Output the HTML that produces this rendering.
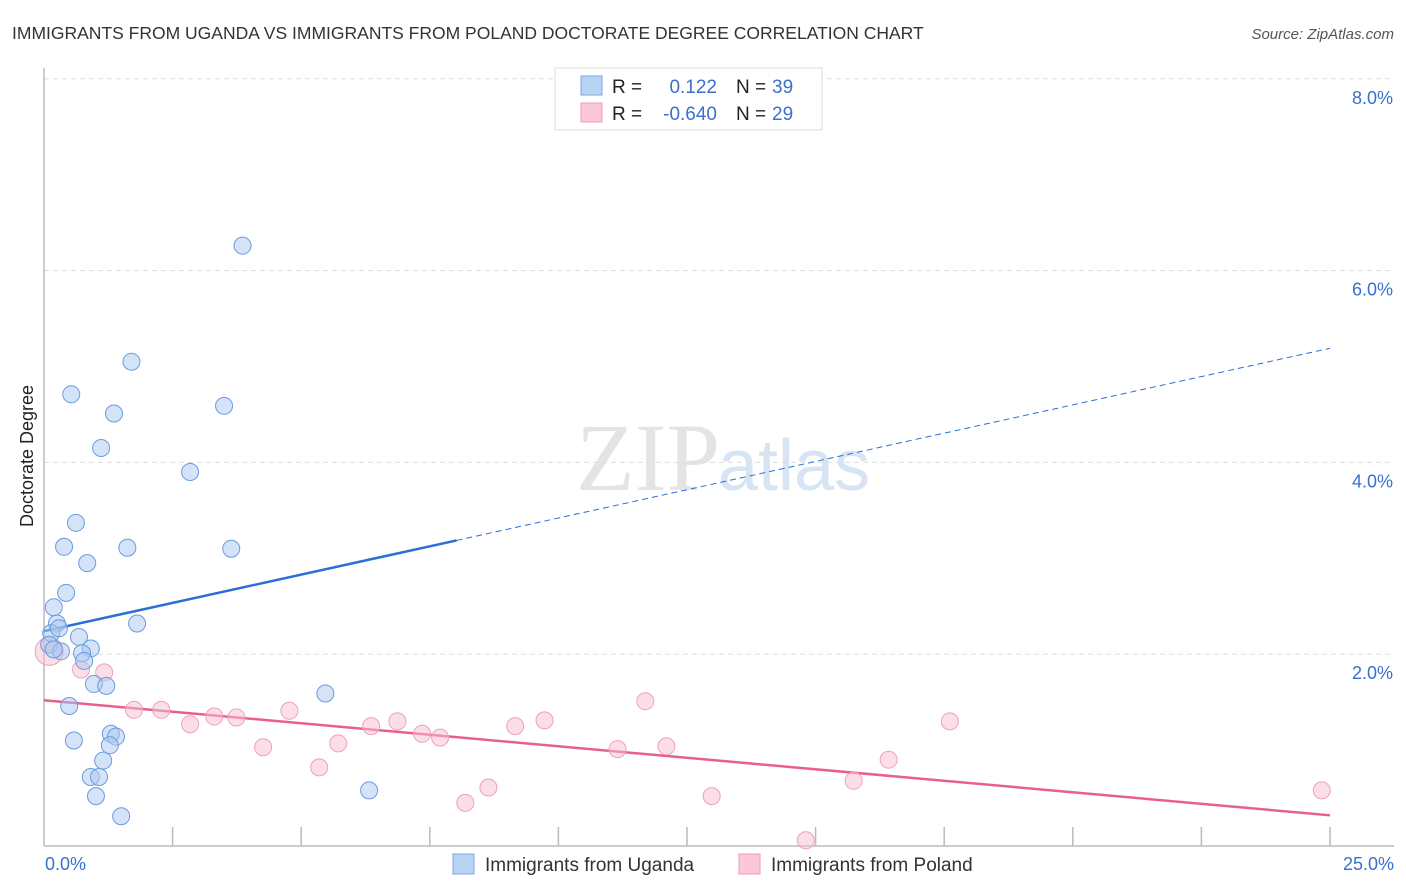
<!DOCTYPE html>
<html><head><meta charset="utf-8"><style>
body{margin:0;background:#fff;font-family:"Liberation Sans",sans-serif;}
#wrap{position:relative;width:1406px;height:892px;overflow:hidden}
</style></head><body>
<div id="wrap">
<svg id="svg" width="1406" height="892" xmlns="http://www.w3.org/2000/svg">
<text x="12" y="39" font-size="17.5" fill="#333">IMMIGRANTS FROM UGANDA VS IMMIGRANTS FROM POLAND DOCTORATE DEGREE CORRELATION CHART</text>
<text x="1394" y="39" font-size="15" fill="#555" font-style="italic" text-anchor="end">Source: ZipAtlas.com</text>
<text x="720" y="490" font-size="96" fill="#e4e4e4" text-anchor="end" font-family="Liberation Serif,serif">ZIP</text>
<text x="718" y="490" font-size="72" fill="#d6e4f4">atlas</text>
<g id="grid"></g>
<line x1="44" y1="68" x2="44" y2="846" stroke="#bbb" stroke-width="1.5"/>
<line x1="44" y1="846" x2="1394" y2="846" stroke="#bbb" stroke-width="1.5"/>
<g id="xticks"></g>
<g id="lines"></g>
<g id="pts"></g>
<text x="33" y="456" font-size="18" fill="#222" text-anchor="middle" transform="rotate(-90 33 456)">Doctorate Degree</text>
<text x="45" y="870" font-size="18" fill="#3a6fd0">0.0%</text>
<text x="1394" y="870" font-size="18" fill="#3a6fd0" text-anchor="end">25.0%</text>
<g>
<rect x="555" y="68" width="267" height="62" fill="#fff" stroke="#ddd"/>
<rect x="581" y="76" width="21" height="19" fill="#b8d4f5" stroke="#7aa7e0"/>
<rect x="581" y="103" width="21" height="19" fill="#fcc8d8" stroke="#f09ab5"/>
<text x="612" y="93" font-size="19" fill="#222">R = </text>
<text x="717" y="93" font-size="19" fill="#3a6fd0" text-anchor="end">0.122</text>
<text x="736" y="93" font-size="19" fill="#222">N =</text>
<text x="772" y="93" font-size="19" fill="#3a6fd0">39</text>
<text x="612" y="120" font-size="19" fill="#222">R = </text>
<text x="717" y="120" font-size="19" fill="#3a6fd0" text-anchor="end">-0.640</text>
<text x="736" y="120" font-size="19" fill="#222">N =</text>
<text x="772" y="120" font-size="19" fill="#3a6fd0">29</text>
</g>
<g>
<rect x="453" y="854" width="21" height="20" fill="#b8d4f5" stroke="#7aa7e0"/>
<text x="485" y="871" font-size="19" fill="#333">Immigrants from Uganda</text>
<rect x="739" y="854" width="21" height="20" fill="#fcc8d8" stroke="#f09ab5"/>
<text x="771" y="871" font-size="19" fill="#333">Immigrants from Poland</text>
</g>
</svg>
</div>
<script>
const yTicks=[2,4,6,8];
const yTickLabels=["2.0%","4.0%","6.0%","8.0%"];
const xTickVals=[2.5,5,7.5,10,12.5,15,17.5,20,22.5,25];
const ugandaX=[3.86,1.70,0.53,1.36,3.50,1.11,2.84,0.62,0.39,1.62,3.64,0.84,0.43,0.19,0.25,0.14,0.29,0.68,0.10,0.33,0.91,0.74,0.78,1.81,5.47,0.97,1.21,0.49,0.58,1.30,1.40,1.28,1.15,0.91,1.07,1.01,1.50,6.32,0.19];
const ugandaY=[6.26,5.05,4.71,4.51,4.59,4.15,3.90,3.37,3.12,3.11,3.10,2.95,2.64,2.49,2.32,2.22,2.27,2.18,2.10,2.03,2.06,2.01,1.93,2.32,1.59,1.69,1.67,1.46,1.10,1.17,1.14,1.05,0.89,0.72,0.72,0.52,0.31,0.58,2.05];
const polandX=[0.10,0.72,1.17,1.75,2.28,2.84,3.31,3.74,4.26,4.77,5.35,5.72,6.36,6.87,7.35,7.70,8.19,8.64,9.16,9.73,11.15,11.69,12.10,12.98,14.81,15.74,16.42,17.61,24.84];
const polandY=[2.03,1.84,1.81,1.42,1.42,1.27,1.35,1.34,1.03,1.41,0.82,1.07,1.25,1.30,1.17,1.13,0.45,0.61,1.25,1.31,1.01,1.51,1.04,0.52,0.06,0.68,0.90,1.30,0.58];
const ugandaLine=[2.24,5.19]; // at x=0 and x=25
const ugandaSolidEnd=8.02;
const polandLine=[1.52,0.32];
const X=v=>44+v*51.44, Y=v=>846-v*95.9;
const NS="http://www.w3.org/2000/svg";
function mk(tag,attrs,parent){const e=document.createElementNS(NS,tag);for(const k in attrs)e.setAttribute(k,attrs[k]);document.getElementById(parent).appendChild(e);return e;}
yTicks.forEach((t,i)=>{
 const l=mk('line',{x1:44,x2:1394,y1:Y(t),y2:Y(t),stroke:'#ddd','stroke-dasharray':'5,4'},'grid');
 
 
 const tx=mk('text',{x:1393,y:Y(t)+25,'font-size':18,fill:'#3a6fd0','text-anchor':'end'},'grid');
 tx.textContent=yTickLabels[i];
 
 
});
xTickVals.forEach(v=>{
 const l=mk('line',{x1:X(v),x2:X(v),y1:827,y2:846,stroke:'#bbb','stroke-width':1.5},'xticks');
 
 
});
const ly=x=>ugandaLine[0]+(ugandaLine[1]-ugandaLine[0])*x/25;
const py=x=>polandLine[0]+(polandLine[1]-polandLine[0])*x/25;
let e=mk('line',{x1:X(0),y1:Y(ly(0)),x2:X(ugandaSolidEnd),y2:Y(ly(ugandaSolidEnd)),stroke:'#2b6fd6','stroke-width':2.5},'lines');


e=mk('line',{x1:X(ugandaSolidEnd),y1:Y(ly(ugandaSolidEnd)),x2:X(25),y2:Y(ly(25)),stroke:'#2b6fd6','stroke-width':1,'stroke-dasharray':'6,4'},'lines');


e=mk('line',{x1:X(0),y1:Y(py(0)),x2:X(25),y2:Y(py(25)),stroke:'#e8608a','stroke-width':2.5},'lines');


polandX.forEach((x,i)=>{
 const c=mk('circle',{cx:X(x),cy:Y(polandY[i]),r:i==0?14:8.5,fill:'rgba(250,190,210,0.5)',stroke:'#f0a0bb','stroke-width':1},'pts');
 
 
});
ugandaX.forEach((x,i)=>{
 const c=mk('circle',{cx:X(x),cy:Y(ugandaY[i]),r:8.5,fill:'rgba(170,200,240,0.5)',stroke:'#6a9be0','stroke-width':1},'pts');
 
 
});
</script>
</body></html>
